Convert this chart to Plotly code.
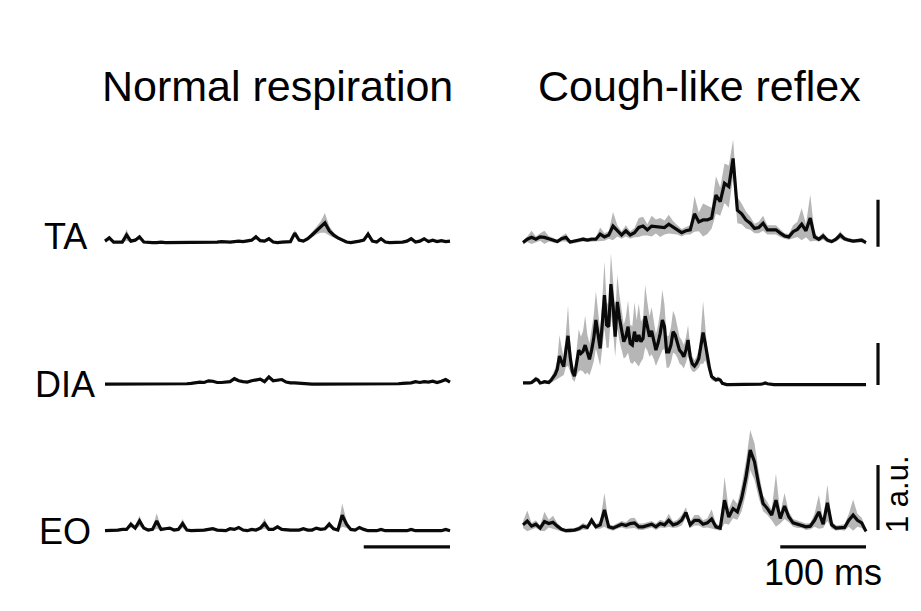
import plotly.graph_objects as go

W, H = 921, 611
OFF = 8  # the page body adds an 8 px margin; compensate so marks land where intended

# ---------------- data (a.u.) ----------------
t_ms = [5 * i for i in range(81)]          # 5 ms grid, 0-400 ms
t_ms_fine = [2.5 * i for i in range(161)]  # 2.5 ms grid, 0-400 ms

normal_ta = [0.04,0.11,0.02,0.02,0.02,0.17,0.04,0.06,0.13,0.02,
             0.01,0.01,0.01,0.02,0.01,0.01,0.02,0.01,0.01,0.02,
             0.01,0.01,0.02,0.01,0.02,0.01,0.02,0.03,0.02,0.02,
             0.03,0.04,0.03,0.04,0.06,0.13,0.05,0.04,0.09,0.02,
             0.01,0.02,0.02,0.03,0.21,0.06,0.04,0.09,0.17,0.26,
             0.34,0.43,0.26,0.17,0.11,0.06,0.02,0.01,0.02,0.04,
             0.06,0.19,0.04,0.02,0.09,0.02,0.01,0.01,0.01,0.02,
             0.04,0.09,0.02,0.04,0.09,0.03,0.06,0.03,0.05,0.03,0.04]
normal_ta_sd = [0.03,0.05,0.02,0.02,0.02,0.12,0.03,0.03,0.05,0.02,
                0.02,0.02,0.02,0.02,0.02,0.02,0.02,0.02,0.02,0.02,
                0.02,0.02,0.02,0.02,0.02,0.02,0.02,0.02,0.02,0.02,
                0.02,0.03,0.02,0.03,0.03,0.05,0.03,0.03,0.04,0.02,
                0.02,0.02,0.02,0.03,0.07,0.03,0.03,0.04,0.06,0.08,
                0.12,0.21,0.10,0.06,0.04,0.03,0.02,0.02,0.02,0.02,
                0.03,0.07,0.02,0.02,0.03,0.02,0.02,0.02,0.02,0.02,
                0.02,0.03,0.02,0.02,0.03,0.02,0.03,0.02,0.02,0.02,0.02]

cough_ta = [0.01,0.08,0.12,0.08,0.13,0.12,0.09,0.06,0.03,0.09,
            0.12,0.02,0.04,0.05,0.08,0.06,0.08,0.08,0.19,0.13,
            0.17,0.36,0.26,0.17,0.26,0.17,0.22,0.33,0.36,0.28,
            0.36,0.35,0.33,0.33,0.40,0.33,0.28,0.22,0.26,0.28,
            0.62,0.45,0.49,0.49,0.53,1.02,0.88,1.27,1.20,1.80,
            0.70,0.62,0.49,0.42,0.31,0.33,0.42,0.28,0.28,0.28,
            0.21,0.15,0.13,0.24,0.29,0.40,0.26,0.53,0.13,0.08,
            0.15,0.06,0.03,0.08,0.17,0.09,0.06,0.04,0.05,0.06,0.01]
cough_ta_sd = [0.04,0.06,0.14,0.06,0.08,0.14,0.06,0.05,0.04,0.06,
               0.09,0.04,0.04,0.04,0.05,0.04,0.05,0.05,0.14,0.08,
               0.08,0.30,0.12,0.08,0.12,0.08,0.10,0.20,0.20,0.12,
               0.22,0.15,0.20,0.15,0.20,0.14,0.10,0.08,0.08,0.10,
               0.38,0.20,0.35,0.30,0.22,0.40,0.30,0.42,0.45,0.40,
               0.28,0.22,0.18,0.14,0.10,0.12,0.16,0.10,0.10,0.10,
               0.08,0.06,0.06,0.14,0.16,0.34,0.14,0.50,0.08,0.05,
               0.08,0.05,0.04,0.05,0.08,0.05,0.04,0.04,0.04,0.05,0.04]

normal_dia = [0.02,0.02,0.02,0.02,0.02,0.02,0.02,0.02,0.02,0.02,
              0.02,0.02,0.02,0.02,0.02,0.02,0.02,0.02,0.02,0.03,
              0.04,0.06,0.07,0.06,0.10,0.09,0.06,0.06,0.07,0.08,
              0.15,0.10,0.08,0.07,0.10,0.12,0.14,0.08,0.19,0.10,
              0.12,0.13,0.07,0.05,0.05,0.04,0.03,0.02,0.02,0.02,
              0.02,0.02,0.02,0.02,0.02,0.02,0.02,0.02,0.02,0.02,
              0.02,0.02,0.02,0.02,0.02,0.02,0.02,0.02,0.03,0.04,
              0.05,0.05,0.08,0.06,0.08,0.07,0.09,0.06,0.09,0.13,0.07]
normal_dia_sd = [0.02,0.02,0.02,0.02,0.02,0.02,0.02,0.02,0.02,0.02,
                 0.02,0.02,0.02,0.02,0.02,0.02,0.02,0.02,0.02,0.02,
                 0.02,0.02,0.03,0.02,0.03,0.03,0.02,0.02,0.02,0.03,
                 0.04,0.03,0.02,0.02,0.03,0.03,0.04,0.02,0.04,0.03,
                 0.03,0.03,0.02,0.02,0.02,0.02,0.02,0.02,0.02,0.02,
                 0.02,0.02,0.02,0.02,0.02,0.02,0.02,0.02,0.02,0.02,
                 0.02,0.02,0.02,0.02,0.02,0.02,0.02,0.02,0.02,0.02,
                 0.02,0.02,0.03,0.02,0.03,0.02,0.03,0.02,0.03,0.04,0.02]

# cough DIA read on the 2.5 ms grid (dense burst of spikes)
cough_dia = [0.05,0.05,0.04,0.05,0.06,0.09,0.14,0.12,0.05,0.06,
             0.08,0.07,0.06,0.11,0.18,0.25,0.38,0.69,0.55,0.44,
             0.83,1.17,0.67,0.32,0.21,0.52,0.83,0.75,0.80,0.95,
             0.75,0.61,0.83,1.11,1.55,1.20,0.87,1.47,2.14,1.43,
             1.39,2.40,1.90,1.15,1.98,1.59,1.27,1.03,1.15,1.39,
             0.99,0.95,1.27,1.03,1.19,1.03,1.11,1.64,1.40,1.15,
             1.29,1.07,0.83,1.00,1.23,1.55,1.39,0.79,0.79,0.95,
             1.27,1.19,1.03,0.83,0.77,0.67,0.83,1.07,0.67,0.50,
             0.45,0.52,0.63,0.91,1.25,0.99,0.63,0.40,0.20,0.15,
             0.12,0.14,0.12,0.04,0.02,0.01,0.01,0.01,0.02,0.01,
             0.01,0.01,0.01,0.02,0.01,0.01,0.01,0.01,0.02,0.02,
             0.01,0.02,0.03,0.05,0.03,0.02,0.01,0.01,0.01,0.01,
             0.01,0.01,0.01,0.01,0.01,0.01,0.01,0.01,0.01,0.01,
             0.01,0.01,0.01,0.01,0.01,0.01,0.01,0.01,0.01,0.01,
             0.01,0.01,0.01,0.01,0.01,0.01,0.01,0.01,0.01,0.01,
             0.01,0.01,0.01,0.01,0.01,0.01,0.01,0.01,0.01,0.01,0.01]
cough_dia_sd = [0.03,0.03,0.03,0.03,0.04,0.05,0.06,0.05,0.03,0.03,
                0.04,0.04,0.04,0.06,0.10,0.14,0.22,0.50,0.35,0.20,
                0.40,0.72,0.35,0.18,0.14,0.28,0.50,0.40,0.48,0.70,
                0.45,0.38,0.45,0.55,0.68,0.55,0.42,0.58,0.80,0.55,
                0.50,0.73,0.62,0.48,0.64,0.55,0.45,0.40,0.48,0.62,
                0.45,0.45,0.70,0.52,0.75,0.48,0.48,0.74,0.58,0.48,
                0.56,0.45,0.38,0.42,0.52,0.72,0.52,0.38,0.38,0.42,
                0.50,0.45,0.38,0.32,0.30,0.28,0.30,0.35,0.25,0.18,
                0.14,0.16,0.22,0.40,0.75,0.40,0.20,0.12,0.08,0.06,
                0.05,0.06,0.05,0.03,0.02,0.02,0.02,0.02,0.02,0.02,
                0.02,0.02,0.02,0.02,0.02,0.02,0.02,0.02,0.02,0.02,
                0.02,0.02,0.02,0.02,0.02,0.02,0.02,0.02,0.02,0.02,
                0.02,0.02,0.02,0.02,0.02,0.02,0.02,0.02,0.02,0.02,
                0.02,0.02,0.02,0.02,0.02,0.02,0.02,0.02,0.02,0.02,
                0.02,0.02,0.02,0.02,0.02,0.02,0.02,0.02,0.02,0.02,
                0.02,0.02,0.02,0.02,0.02,0.02,0.02,0.02,0.02,0.02,0.02]

normal_eo = [0.02,0.02,0.02,0.03,0.04,0.04,0.12,0.06,0.17,0.06,
             0.03,0.04,0.17,0.04,0.05,0.06,0.03,0.04,0.13,0.03,
             0.02,0.02,0.02,0.03,0.04,0.05,0.03,0.02,0.02,0.05,
             0.04,0.07,0.03,0.02,0.04,0.03,0.06,0.13,0.04,0.04,
             0.08,0.04,0.03,0.03,0.03,0.03,0.05,0.03,0.03,0.06,
             0.04,0.05,0.12,0.05,0.03,0.26,0.12,0.04,0.03,0.07,
             0.04,0.02,0.02,0.02,0.04,0.02,0.02,0.02,0.02,0.02,
             0.02,0.04,0.02,0.02,0.02,0.02,0.02,0.02,0.02,0.04,0.02]
normal_eo_sd = [0.02,0.02,0.02,0.02,0.02,0.02,0.05,0.02,0.08,0.02,
                0.02,0.02,0.12,0.02,0.02,0.02,0.02,0.02,0.07,0.02,
                0.02,0.02,0.02,0.02,0.02,0.02,0.02,0.02,0.02,0.02,
                0.02,0.02,0.02,0.02,0.02,0.02,0.03,0.08,0.02,0.02,
                0.03,0.02,0.02,0.02,0.02,0.02,0.02,0.02,0.02,0.02,
                0.02,0.02,0.05,0.02,0.02,0.18,0.06,0.02,0.02,0.02,
                0.02,0.02,0.02,0.02,0.02,0.02,0.02,0.02,0.02,0.02,
                0.02,0.02,0.02,0.02,0.02,0.02,0.02,0.02,0.02,0.02,0.02]

cough_eo = [0.11,0.17,0.09,0.12,0.06,0.16,0.13,0.15,0.09,0.04,
            0.02,0.02,0.03,0.05,0.09,0.07,0.18,0.08,0.11,0.34,
            0.08,0.06,0.09,0.12,0.10,0.13,0.14,0.08,0.08,0.10,
            0.12,0.08,0.13,0.11,0.18,0.11,0.13,0.18,0.30,0.11,
            0.18,0.18,0.12,0.14,0.20,0.08,0.06,0.49,0.23,0.36,
            0.31,0.52,0.84,1.26,1.08,0.72,0.44,0.36,0.26,0.49,
            0.21,0.40,0.23,0.14,0.12,0.11,0.08,0.09,0.18,0.31,
            0.12,0.45,0.11,0.06,0.07,0.07,0.18,0.26,0.18,0.14,0.01]
cough_eo_sd = [0.05,0.16,0.05,0.06,0.04,0.15,0.06,0.10,0.05,0.03,
               0.03,0.03,0.03,0.04,0.05,0.04,0.06,0.04,0.06,0.26,
               0.04,0.04,0.04,0.05,0.05,0.08,0.08,0.05,0.05,0.05,
               0.05,0.05,0.06,0.05,0.10,0.05,0.06,0.08,0.08,0.05,
               0.08,0.08,0.06,0.07,0.15,0.05,0.04,0.36,0.12,0.15,
               0.12,0.20,0.25,0.31,0.28,0.20,0.12,0.10,0.08,0.41,
               0.08,0.20,0.08,0.06,0.06,0.05,0.05,0.05,0.10,0.26,
               0.06,0.28,0.06,0.04,0.04,0.05,0.10,0.24,0.10,0.08,0.03]

muscles = ["TA", "DIA", "EO"]
conditions = ["Normal respiration", "Cough-like reflex"]
series = {
    ("TA", 0): (t_ms, normal_ta, normal_ta_sd), ("TA", 1): (t_ms, cough_ta, cough_ta_sd),
    ("DIA", 0): (t_ms, normal_dia, normal_dia_sd), ("DIA", 1): (t_ms_fine, cough_dia, cough_dia_sd),
    ("EO", 0): (t_ms, normal_eo, normal_eo_sd), ("EO", 1): (t_ms, cough_eo, cough_eo_sd),
}
scale_bar_au = 1.0
scale_bar_ms = 100
scale_bar_label_t = "100 ms"
scale_bar_label_y = "1 a.u."

# ---------------- layout geometry (pixels in the target picture) ----------------
row_geom = {
    "TA":  dict(zero=243, k=47, top=110, bot=262, bar_base=-0.08, label_y=236),
    "DIA": dict(zero=385, k=42, top=240, bot=400, bar_base=0.0, label_y=384),
    "EO":  dict(zero=532, k=65, top=420, bot=565, bar_base=0.03, label_y=531),
}
col_geom = [
    dict(x0=105, s=345 / 400, left=100, right=460, title_x=277),
    dict(x0=523, s=343 / 400, left=515, right=905, title_x=699),
]

GRAY = "rgb(182,182,182)"
BLACK = "rgb(10,10,10)"
LW = 3.2
FONT = "Liberation Sans, Arial, sans-serif"


def px_x(p):
    return (p - OFF) / W


def px_y(p):
    return 1 - (p - OFF) / H


fig = go.Figure()
layout = dict(width=W, height=H, margin=dict(l=0, r=0, t=0, b=0),
              paper_bgcolor="white", plot_bgcolor="rgba(0,0,0,0)",
              showlegend=False, font=dict(family=FONT, color="black"))

n = 0
for m in muscles:
    g = row_geom[m]
    for c in range(2):
        cg = col_geom[c]
        n += 1
        xa = "x" if n == 1 else f"x{n}"
        ya = "y" if n == 1 else f"y{n}"
        layout["xaxis" if n == 1 else f"xaxis{n}"] = dict(
            domain=[px_x(cg["left"]), px_x(cg["right"])],
            range=[(cg["left"] - cg["x0"]) / cg["s"], (cg["right"] - cg["x0"]) / cg["s"]],
            visible=False, anchor=ya, fixedrange=True)
        layout["yaxis" if n == 1 else f"yaxis{n}"] = dict(
            domain=[px_y(g["bot"]), px_y(g["top"])],
            range=[(g["zero"] - g["bot"]) / g["k"], (g["zero"] - g["top"]) / g["k"]],
            visible=False, anchor=xa, fixedrange=True)
        tt, mean, sd = series[(m, c)]
        lo = [a - b for a, b in zip(mean, sd)]
        hi = [a + b for a, b in zip(mean, sd)]
        fig.add_trace(go.Scatter(x=tt, y=lo, mode="lines", line=dict(width=0, color=GRAY),
                                 xaxis=xa, yaxis=ya, hoverinfo="skip"))
        fig.add_trace(go.Scatter(x=tt, y=hi, mode="lines", line=dict(width=0, color=GRAY),
                                 fill="tonexty", fillcolor=GRAY, xaxis=xa, yaxis=ya, hoverinfo="skip"))
        fig.add_trace(go.Scatter(x=tt, y=mean, mode="lines", line=dict(width=LW, color=BLACK),
                                 xaxis=xa, yaxis=ya))
        if c == 1:  # vertical 1 a.u. scale bar
            tb = tt[-1] + 14
            fig.add_trace(go.Scatter(x=[tb, tb], y=[g["bar_base"], g["bar_base"] + scale_bar_au],
                                     mode="lines", line=dict(width=LW, color=BLACK),
                                     xaxis=xa, yaxis=ya, hoverinfo="skip"))
        if m == "EO":  # horizontal 100 ms scale bars
            tend = tt[-1]
            fig.add_trace(go.Scatter(x=[tend - scale_bar_ms, tend], y=[-0.23, -0.23],
                                     mode="lines", line=dict(width=LW, color=BLACK),
                                     xaxis=xa, yaxis=ya, hoverinfo="skip"))

ann = []
for c, name in enumerate(conditions):
    ann.append(dict(text=name, x=px_x(col_geom[c]["title_x"]), y=px_y(86), xref="paper", yref="paper",
                    showarrow=False, xanchor="center", yanchor="middle", font=dict(size=43)))
for m in muscles:
    ann.append(dict(text=m, x=px_x(65), y=px_y(row_geom[m]["label_y"]), xref="paper", yref="paper",
                    showarrow=False, xanchor="center", yanchor="middle", font=dict(size=36)))
ann.append(dict(text=scale_bar_label_t, x=px_x(823), y=px_y(572), xref="paper", yref="paper",
                showarrow=False, xanchor="center", yanchor="middle", font=dict(size=36)))
ann.append(dict(text=scale_bar_label_y, x=px_x(897), y=px_y(494), xref="paper", yref="paper",
                showarrow=False, xanchor="center", yanchor="middle", textangle=-90, font=dict(size=31)))
layout["annotations"] = ann

fig.update_layout(**layout)
fig.write_html("out.html")
